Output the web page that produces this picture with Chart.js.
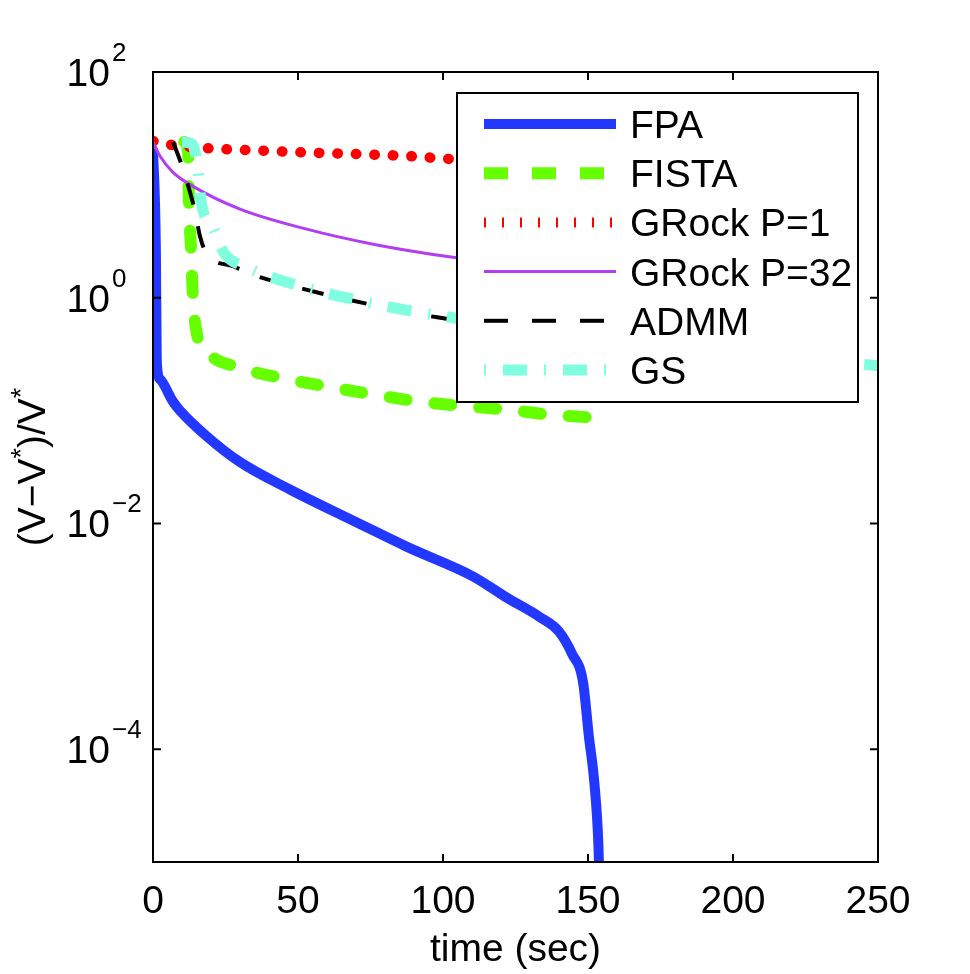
<!DOCTYPE html>
<html>
<head>
<meta charset="utf-8">
<script src="https://cdn.jsdelivr.net/npm/chart.js@4.4.0/dist/chart.umd.min.js"></script>
<style>
  html, body { margin: 0; padding: 0; background: #fff; }
</style>
</head>
<body>
<canvas id="myChart" width="970" height="974"></canvas>
<script>
// values (time in sec, relative error)
var fpaTime = [0, 1, 1.3, 2.4, 6.9, 9.3, 18.6, 30, 47.2, 70.3, 87.6, 110.3, 122, 133.4, 140, 144.5, 148.3, 150.3, 152.2, 153.6, 154.3];
var fpaVal = [21, 2.5, 0.27, 0.19, 0.12, 0.10, 0.059, 0.035, 0.020, 0.0102, 0.0062, 0.0034, 0.0022, 0.00148, 0.0011, 0.0007, 0.00039, 0.00013, 0.00005, 0.000014, 0.000003];

var fistaTime = [10.8, 12.1, 12.4, 13.1, 13.8, 15.2, 18.6, 30, 46.2, 62, 75.9, 92, 108.3, 122, 137, 157.5];
var fistaVal = [24, 19.5, 7.0, 2.7, 0.97, 0.47, 0.33, 0.24, 0.19, 0.16, 0.139, 0.12, 0.109, 0.102, 0.092, 0.085];

var grock1Time = [0, 6.9, 41.4, 87.6, 103.4, 130, 160];
var grock1Val = [24.4, 22.5, 19.9, 18.0, 16.9, 16, 15.2];

var grock32Time = [0, 2.4, 6.9, 13.8, 30, 53, 75.9, 103.4, 130, 160];
var grock32Val = [24, 18, 12.9, 9.7, 6.1, 4.05, 2.98, 2.28, 1.9, 1.6];

var admmTime = [6.9, 10, 14.5, 16.2, 18.6, 27.6, 35.9, 45.5, 62, 80, 98, 150, 200, 250];
var admmVal = [24, 14.7, 5.8, 3.5, 2.43, 1.9, 1.55, 1.32, 1.03, 0.82, 0.67, 0.45, 0.32, 0.245];

var gsTime = [10, 13.5, 15.5, 16.5, 20.7, 24.5, 32.4, 52, 72, 92, 150, 200, 250];
var gsVal = [24, 23, 13.8, 7.4, 4.2, 2.5, 1.86, 1.24, 0.93, 0.74, 0.46, 0.33, 0.25];

var xTicks = [0, 50, 100, 150, 200, 250];
var yTickExps = [2, 0, -2, -4];
var seriesNames = ["FPA", "FISTA", "GRock P=1", "GRock P=32", "ADMM", "GS"];

function pts(t, v) {
  return t.map(function (x, i) { return { x: x, y: v[i] }; });
}

var FONT = '"Liberation Sans", Arial, Helvetica, sans-serif';

// axes box, inward ticks, tick labels, titles and the legend, MATLAB style
var matlabFrame = {
  id: "matlabFrame",
  afterDraw: function (chart) {
    var ctx = chart.ctx;
    var a = chart.chartArea;
    var xs = chart.scales.x;
    var ys = chart.scales.y;
    ctx.save();
    ctx.setLineDash([]);

    // legend
    var lx = 457, ly = 93, lw = 401, lh = 309;
    ctx.fillStyle = "#fff";
    ctx.fillRect(lx, ly, lw, lh);
    chart.data.datasets.forEach(function (ds, i) {
      var y = 124 + i * 49.2;
      ctx.save();
      ctx.strokeStyle = ds.borderColor;
      ctx.lineWidth = ds.legendWidth || ds.borderWidth;
      ctx.lineCap = "butt";
      ctx.setLineDash(ds.legendDash || ds.borderDash || []);
      ctx.beginPath();
      ctx.moveTo(484, y);
      ctx.lineTo(616, y);
      ctx.stroke();
      ctx.restore();
      ctx.fillStyle = "#000";
      ctx.font = "39px " + FONT;
      ctx.textAlign = "left";
      ctx.textBaseline = "alphabetic";
      ctx.fillText(ds.label, 630, y + 14);
    });
    ctx.strokeStyle = "#000";
    ctx.lineWidth = 2;
    ctx.strokeRect(lx, ly, lw, lh);

    // frame
    ctx.strokeRect(a.left, a.top, a.right - a.left, a.bottom - a.top);
    ctx.beginPath();
    xTicks.forEach(function (v) {
      var px = xs.getPixelForValue(v);
      ctx.moveTo(px, a.bottom); ctx.lineTo(px, a.bottom - 8);
      ctx.moveTo(px, a.top); ctx.lineTo(px, a.top + 8);
    });
    yTickExps.forEach(function (e) {
      var py = ys.getPixelForValue(Math.pow(10, e));
      ctx.moveTo(a.left, py); ctx.lineTo(a.left + 8, py);
      ctx.moveTo(a.right, py); ctx.lineTo(a.right - 8, py);
    });
    ctx.stroke();

    // tick labels
    ctx.fillStyle = "#000";
    ctx.font = "39px " + FONT;
    ctx.textAlign = "center";
    ctx.textBaseline = "alphabetic";
    xTicks.forEach(function (v) {
      ctx.fillText(String(v), xs.getPixelForValue(v), 913);
    });
    yTickExps.forEach(function (e) {
      var py = ys.getPixelForValue(Math.pow(10, e));
      ctx.font = "39px " + FONT;
      ctx.textAlign = "right";
      ctx.fillText("10", a.left - 43, py + 14);
      ctx.font = "26px " + FONT;
      ctx.textAlign = "left";
      ctx.fillText(String(e).replace("-", "\u2212"), a.left - 41, py - 11);
    });

    // x title
    ctx.font = "39px " + FONT;
    ctx.textAlign = "center";
    ctx.fillText("time (sec)", (a.left + a.right) / 2, 961);

    // y title with superscript stars
    var parts = [["(V\u2212V", false], ["*", true], [")/V", false], ["*", true]];
    var total = 0;
    parts.forEach(function (p) {
      ctx.font = (p[1] ? "27px " : "39px ") + FONT;
      p.push(ctx.measureText(p[0]).width);
      total += p[2];
    });
    ctx.translate(45, 467 + total / 2);
    ctx.rotate(-Math.PI / 2);
    ctx.textAlign = "left";
    var cx = 0;
    parts.forEach(function (p) {
      ctx.font = (p[1] ? "27px " : "39px ") + FONT;
      ctx.fillText(p[0], cx, p[1] ? -15 : 0);
      cx += p[2];
    });
    ctx.restore();
  }
};

new Chart("myChart", {
  type: "line",
  data: {
    datasets: [{
      label: seriesNames[0],
      data: pts(fpaTime, fpaVal),
      borderColor: "#2238ff",
      borderWidth: 10,
      order: 5
    }, {
      label: seriesNames[1],
      data: pts(fistaTime, fistaVal),
      borderColor: "#66ff00",
      borderWidth: 12,
      borderDash: [17, 28],
      borderCapStyle: "round",
      legendDash: [24, 24],
      order: 4
    }, {
      label: seriesNames[2],
      data: pts(grock1Time, grock1Val),
      borderColor: "#ff0000",
      borderWidth: 10.5,
      borderDash: [0.5, 18],
      borderCapStyle: "round",
      legendDash: [2, 16],
      legendWidth: 10,
      order: 3
    }, {
      label: seriesNames[3],
      data: pts(grock32Time, grock32Val),
      borderColor: "#b23ef2",
      borderWidth: 3,
      order: 2
    }, {
      label: seriesNames[4],
      data: pts(admmTime, admmVal),
      borderColor: "#000000",
      borderWidth: 4,
      borderDash: [22, 22],
      legendDash: [24, 24],
      order: 1
    }, {
      label: seriesNames[5],
      data: pts(gsTime, gsVal),
      borderColor: "#7fffe0",
      borderWidth: 11,
      borderDash: [24, 17, 2, 17],
      legendDash: [2, 17, 24, 17],
      order: 0
    }]
  },
  options: {
    responsive: false,
    animation: false,
    layout: { padding: { left: 153, top: 72, right: 92, bottom: 112 } },
    elements: {
      point: { radius: 0 },
      line: { cubicInterpolationMode: "monotone", fill: false, borderJoinStyle: "round" }
    },
    datasets: { line: { clip: 0 } },
    scales: {
      x: { type: "linear", min: 0, max: 250, display: false },
      y: { type: "logarithmic", min: 1e-5, max: 100, display: false }
    },
    plugins: {
      legend: { display: false },
      tooltip: { enabled: false }
    }
  },
  plugins: [matlabFrame]
});
</script>
</body>
</html>
